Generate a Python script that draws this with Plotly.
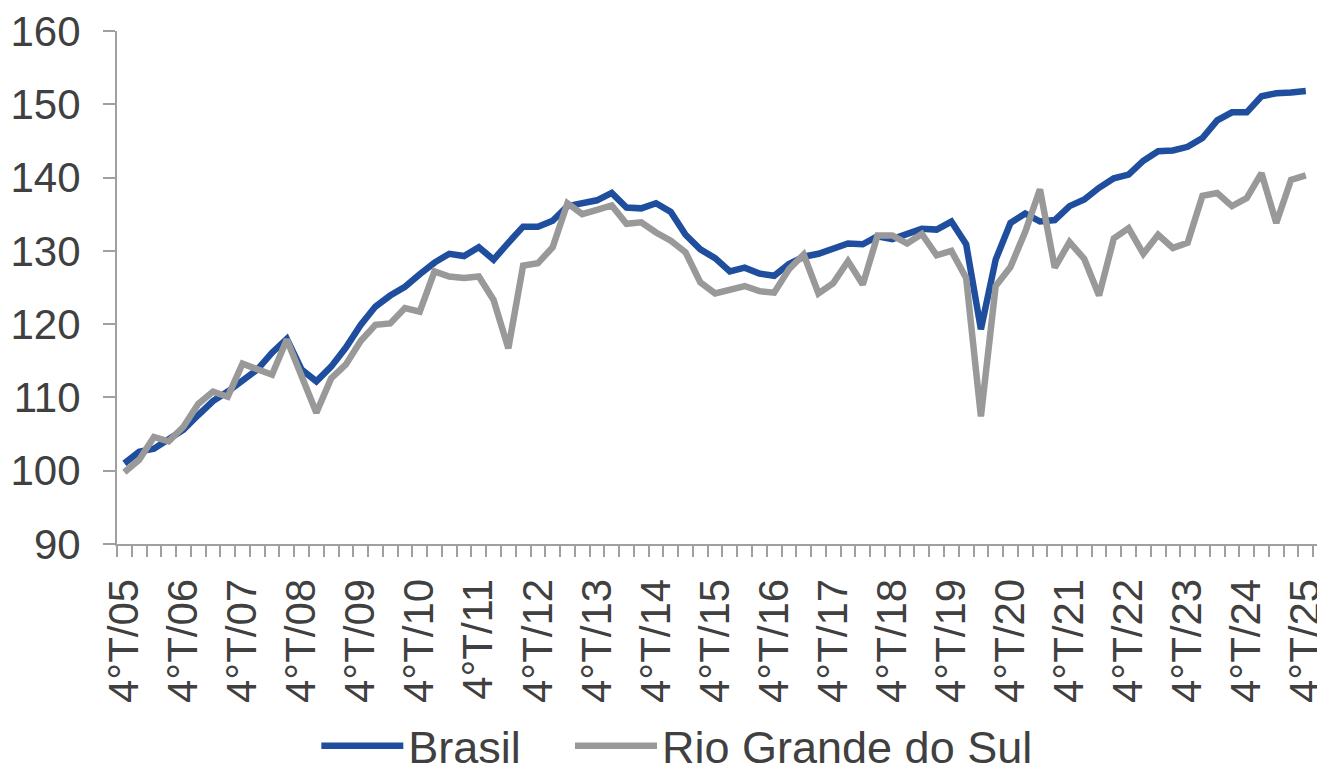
import plotly.graph_objects as go

# Quarterly index (4ºT/05 ... 4ºT/25), 81 quarters
quarter_index = list(range(81))

brasil = [
    101.0, 102.6, 103.0, 104.2, 105.6, 107.6, 109.5, 110.8, 112.2, 113.8,
    116.1, 118.0, 113.8, 112.2, 114.2, 116.8, 119.9, 122.4, 123.9, 125.1,
    126.8, 128.4, 129.6, 129.3, 130.5, 128.8, 131.1, 133.3, 133.3, 134.1,
    136.1, 136.6, 136.9, 137.9, 135.9, 135.8, 136.5, 135.3, 132.2, 130.2,
    129.0, 127.2, 127.7, 126.9, 126.6, 128.2, 129.2, 129.6, 130.3, 131.0,
    130.9, 132.0, 131.6, 132.3, 133.0, 132.9, 134.0, 130.9, 119.3, 128.8,
    133.8, 135.1, 134.0, 134.2, 136.1, 137.0, 138.6, 139.9, 140.4, 142.3,
    143.6, 143.7, 144.2, 145.4, 147.8, 148.9, 148.9, 151.1, 151.5, 151.6,
    151.8,
]

rio_grande_do_sul = [
    99.8, 101.5, 104.6, 104.0, 106.0, 109.1, 110.8, 110.1, 114.6, 113.9,
    113.1, 117.9, 112.6, 107.9, 112.6, 114.5, 117.7, 119.9, 120.1, 122.2,
    121.7, 127.2, 126.5, 126.3, 126.5, 123.3, 116.7, 128.0, 128.3, 130.5,
    136.5, 135.0, 135.6, 136.2, 133.7, 133.9, 132.5, 131.4, 129.8, 125.7,
    124.2, 124.8, 125.2, 124.5, 124.3, 127.5, 129.5, 124.2, 125.6, 128.6,
    125.4, 132.1, 132.1, 131.0, 132.3, 129.4, 130.0, 126.3, 107.4, 125.2,
    127.8, 132.6, 138.4, 127.7, 131.2, 128.9, 123.9, 131.7, 133.1, 129.6,
    132.2, 130.4, 131.1, 137.5, 137.9, 136.1, 137.2, 140.6, 133.8, 139.7,
    140.3,
]

tick_positions = [0, 4, 8, 12, 16, 20, 24, 28, 32, 36, 40,
                  44, 48, 52, 56, 60, 64, 68, 72, 76, 80]
tick_labels = ["4°T/05", "4°T/06", "4°T/07", "4°T/08", "4°T/09", "4°T/10",
               "4°T/11", "4°T/12", "4°T/13", "4°T/14", "4°T/15", "4°T/16",
               "4°T/17", "4°T/18", "4°T/19", "4°T/20", "4°T/21", "4°T/22",
               "4°T/23", "4°T/24", "4°T/25"]

BLUE = "#1F4E9E"
GRAY = "#999999"
AXIS = "#A0A0A0"
TEXT = "#404040"
FONT = "Liberation Sans, Arial, sans-serif"

fig = go.Figure()
fig.add_trace(go.Scatter(x=quarter_index, y=brasil, mode="lines", name="Brasil",
                         line=dict(color=BLUE, width=6.5), legend="legend"))
fig.add_trace(go.Scatter(x=quarter_index, y=rio_grande_do_sul, mode="lines",
                         name="Rio Grande do Sul",
                         line=dict(color=GRAY, width=6.5), legend="legend2"))

legend_common = dict(orientation="h", xanchor="left", y=-0.394,
                     yanchor="middle", font=dict(size=45, color=TEXT),
                     itemwidth=82, bgcolor="rgba(0,0,0,0)")

# the page body adds an 8px offset, so margins compensate for it
fig.update_layout(
    width=1325, height=768,
    margin=dict(l=109, r=8, t=23, b=232, autoexpand=False),
    paper_bgcolor="white", plot_bgcolor="white",
    font=dict(family=FONT, color=TEXT, size=42),
    showlegend=True,
    legend=dict(x=0.165, **legend_common),
    legend2=dict(x=0.375, **legend_common),
)

fig.update_xaxes(
    range=[-0.5, 81.3],
    tickmode="array", tickvals=tick_positions, ticktext=tick_labels,
    tickangle=-90, ticks="outside", ticklen=16, tickcolor="rgba(0,0,0,0)",
    ticklabeloverflow="allow",
    tickfont=dict(size=42, color=TEXT, family=FONT),
    showline=True, linecolor=AXIS, linewidth=2, showgrid=False, zeroline=False,
    minor=dict(tickmode="linear", tick0=-0.5, dtick=1, ticks="outside",
               ticklen=11, tickcolor=AXIS, tickwidth=2, showgrid=False),
)
fig.update_yaxes(
    range=[90, 160], dtick=10, tick0=90,
    ticks="outside", ticklen=12, tickcolor=AXIS, tickwidth=2,
    ticklabelstandoff=14, ticklabeloverflow="allow",
    tickfont=dict(size=42, color=TEXT, family=FONT),
    showline=True, linecolor=AXIS, linewidth=2, showgrid=False, zeroline=False,
)

fig.write_html("out.html")
